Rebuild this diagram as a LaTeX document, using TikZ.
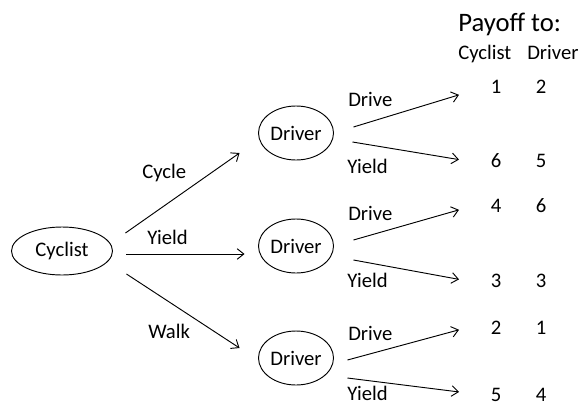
\documentclass[tikz,border=0pt]{standalone}
\usepackage{fontspec}
\setmainfont{Carlito}
\usetikzlibrary{arrows.meta, shapes.geometric}

\begin{document}
\begin{tikzpicture}[
    x=0.75pt, y=-0.75pt,
    font=\fontsize{15.5}{18}\selectfont,
    player/.style={ellipse, draw, line width=0.7pt, inner sep=0pt},
    move/.style={anchor=base west, inner sep=0pt},
    pay/.style={anchor=base, inner sep=0pt},
    head/.style={anchor=base west, inner sep=0pt},
    arrow/.style={line width=0.7pt, -{Straight Barb[length=5pt, width=8pt]}}
]
\useasboundingbox (0,0) rectangle (580,407);

% players
\node[player, minimum width=75.75pt, minimum height=36pt] (cyc) at (62,251)  {Cyclist};
\node[player, minimum width=56.25pt, minimum height=40.5pt] (d1) at (296,133) {Driver};
\node[player, minimum width=56.25pt, minimum height=40.5pt] (d2) at (296,246) {Driver};
\node[player, minimum width=56.25pt, minimum height=40.5pt] (d3) at (296,358) {Driver};

% header
\node[head, font=\fontsize{20}{24}\selectfont] (htitle) at (458,31) {Payoff to:};
\node[head] (hcyc) at (458,59) {Cyclist};
\node[head] (hdrv) at (527,59) {Driver};

% payoffs
\node[pay] (p11a) at (496,93.5)  {1};  \node[pay] (p11b) at (541,93.5)  {2};
\node[pay] (p12a) at (496,167.5) {6};  \node[pay] (p12b) at (541,167.5) {5};
\node[pay] (p21a) at (496,212.5) {4};  \node[pay] (p21b) at (541,212.5) {6};
\node[pay] (p22a) at (496,287)   {3};  \node[pay] (p22b) at (541,287)   {3};
\node[pay] (p31a) at (496,334.5) {2};  \node[pay] (p31b) at (541,334.5) {1};
\node[pay] (p32a) at (496,401.5) {5};  \node[pay] (p32b) at (541,401.5) {4};

% move labels
\node[move] (lcycle) at (142,178) {Cycle};
\node[move] (lyield) at (147,244) {Yield};
\node[move] (lwalk)  at (148,338) {Walk};
\node[move] (ldr1) at (348,106) {Drive};
\node[move] (lyd1) at (347,173) {Yield};
\node[move] (ldr2) at (348,220) {Drive};
\node[move] (lyd2) at (347,287) {Yield};
\node[move] (ldr3) at (348,340) {Drive};
\node[move] (lyd3) at (347,400) {Yield};

% cyclist moves
\draw[arrow] ([shift={(12.5,-18)}]cyc.east) -- ([shift={(-18.5,20)}]d1.west);
\draw[arrow] ([shift={(13.5,3)}]cyc.east)   -- ([shift={(-13.5,8)}]d2.west);
\draw[arrow] ([shift={(13.5,23)}]cyc.east)  -- ([shift={(-18.5,-10)}]d3.west);

% driver moves
\draw[arrow] ([shift={(19.5,-6)}]d1.east) -- ([shift={(-37,8)}]p11a.center);
\draw[arrow] ([shift={(18.5,9)}]d1.east)  -- ([shift={(-37,-1)}]p12a.center);
\draw[arrow] ([shift={(19.5,-6)}]d2.east) -- ([shift={(-37,4)}]p21a.center);
\draw[arrow] ([shift={(19.5,14)}]d2.east) -- ([shift={(-37,-1)}]p22a.center);
\draw[arrow] ([shift={(13.5,2)}]d3.east)  -- ([shift={(-37,2)}]p31a.center);
\draw[arrow] ([shift={(13.5,20)}]d3.east) -- ([shift={(-37,-3)}]p32a.center);
\end{tikzpicture}
\end{document}
